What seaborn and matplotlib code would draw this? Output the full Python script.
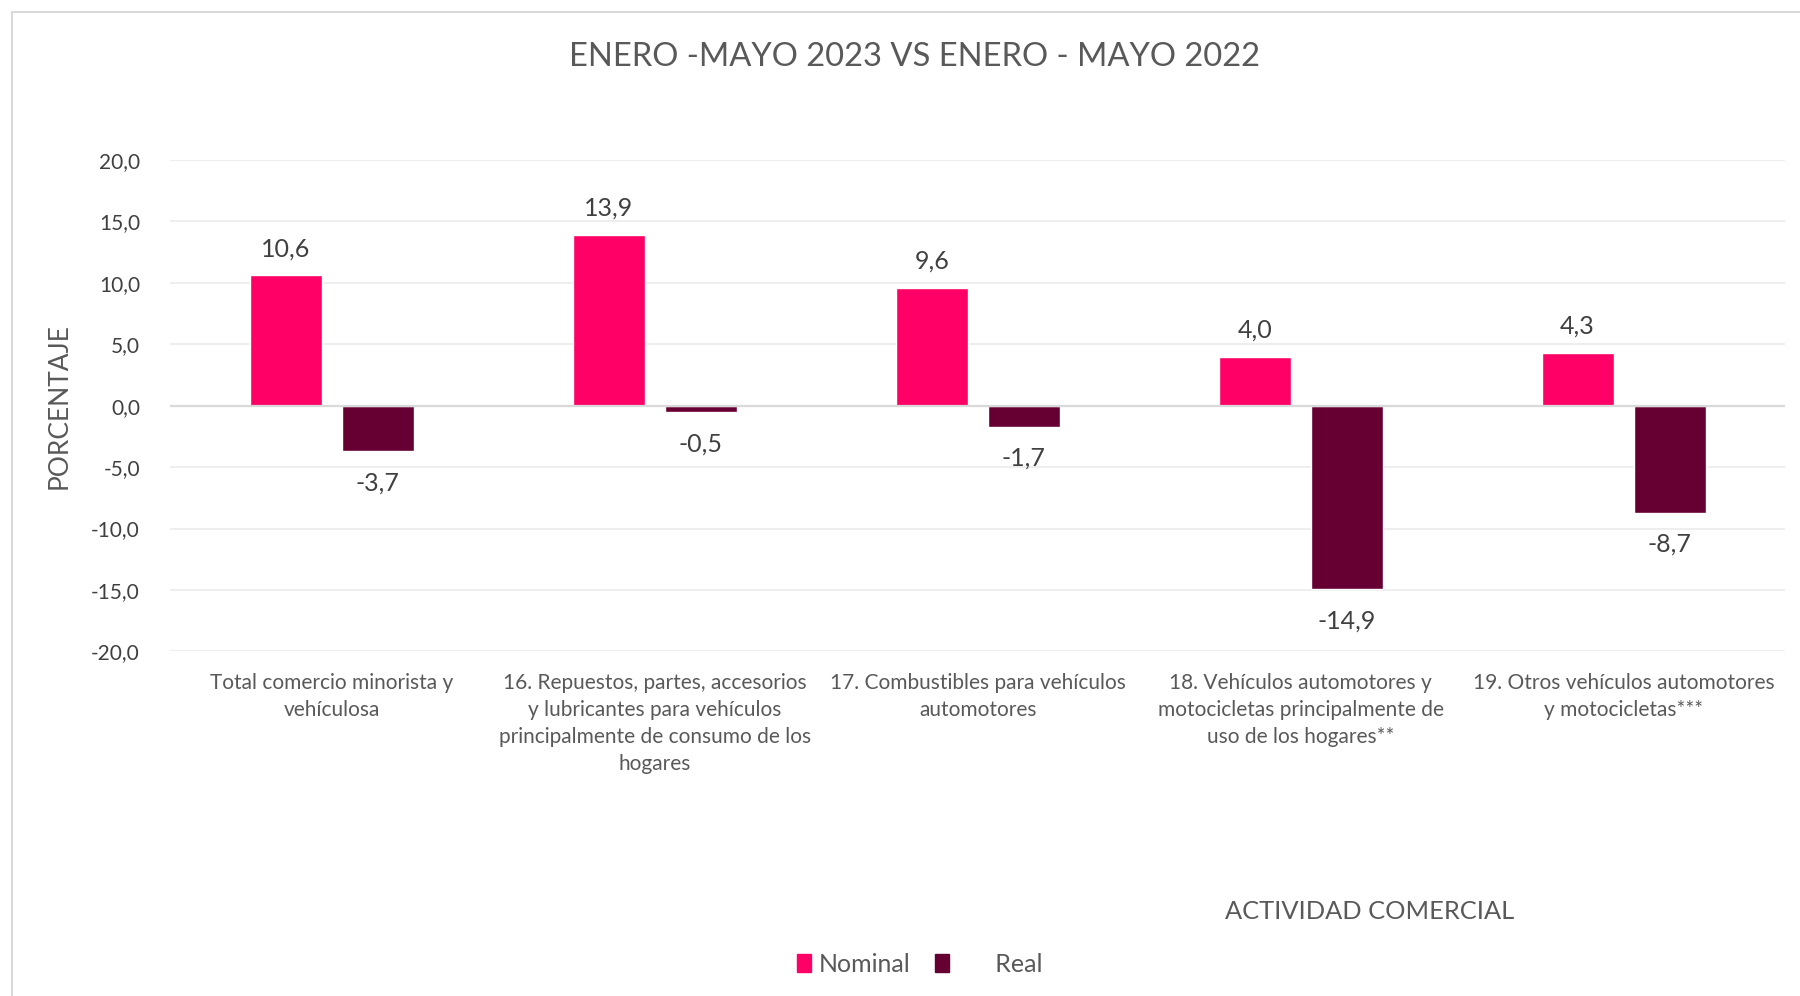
import matplotlib
matplotlib.use("Agg")
import matplotlib.pyplot as plt
from matplotlib.patches import Patch, Rectangle
from matplotlib.ticker import FuncFormatter
import seaborn as sns
import pandas as pd

# Datos del grafico
categorias = [
    "Total comercio minorista y\nvehículosa",
    "16. Repuestos, partes, accesorios\ny lubricantes para vehículos\nprincipalmente de consumo de los\nhogares",
    "17. Combustibles para vehículos\nautomotores",
    "18. Vehículos automotores y\nmotocicletas principalmente de\nuso de los hogares**",
    "19. Otros vehículos automotores\ny motocicletas***",
]
series = ["Nominal", "Real"]
nominal = [10.6, 13.9, 9.6, 4.0, 4.3]
real = [-3.7, -0.5, -1.7, -14.9, -8.7]
colores = ["#FF0066", "#660033"]

df = pd.DataFrame({
    "CATEGORIA": categorias * 2,
    "SERIE": ["Nominal"] * len(categorias) + ["Real"] * len(categorias),
    "VALOR": nominal + real,
})

sns.set_style("white")
plt.rcParams['font.family'] = ['Lato', 'DejaVu Sans']
gris = "#595959"

fig = plt.figure(figsize=(18, 9.96), dpi=100)
ax = fig.add_axes([0.0947, 0.346, 0.897, 0.4934])

sns.barplot(data=df, x="CATEGORIA", y="VALOR", hue="SERIE", order=categorias,
            hue_order=series, palette=colores, width=0.57, gap=0.218,
            saturation=1, legend=False, ax=ax)

ax.set_ylim(-20, 20)
ax.set_xlim(-0.5, 4.5)
ax.set_yticks(range(-20, 21, 5))
ax.yaxis.set_major_formatter(FuncFormatter(lambda v, p: f"{v:.1f}".replace(".", ",")))
ax.grid(axis="y", color="#EDEDED", linewidth=1.3)
ax.set_axisbelow(True)
ax.axhline(0, color="#D9D9D9", linewidth=1.6, zorder=1)
for s in ax.spines.values():
    s.set_visible(False)
ax.tick_params(axis="y", length=0, pad=22, labelsize=15, labelcolor="#404040")
ax.tick_params(axis="x", length=0, pad=15.5, labelsize=15, labelcolor=gris)
for lbl in ax.get_xticklabels():
    lbl.set_linespacing(1.44)

ax.set_xlabel("")
ax.set_ylabel("PORCENTAJE", fontsize=19, color=gris)
ax.yaxis.set_label_coords(-0.061, 0.5)

# Etiquetas de datos
for cont in ax.containers:
    for bar in cont:
        v = bar.get_height()
        y = bar.get_y() + v
        off = 19 if v >= 0 else -23
        ax.annotate(f"{v:.1f}".replace(".", ","), (bar.get_x() + bar.get_width() / 2, y),
                    xytext=(0, off), textcoords="offset points", ha="center", va="center",
                    fontsize=18, color="#404040")

fig.text(0.508, 0.9425, "ENERO -MAYO 2023 VS ENERO - MAYO 2022", ha="center", va="center",
         fontsize=23.6, color=gris)
fig.text(0.761, 0.085, "ACTIVIDAD COMERCIAL", ha="center", va="center", fontsize=18.3,
         color=gris)

handles = [Patch(color=colores[0]), Patch(color=colores[1])]
fig.legend(handles, ["Nominal", "      Real"], loc="center", bbox_to_anchor=(0.511, 0.032),
           ncol=2, frameon=False, prop={"size": 18}, labelcolor=gris,
           handlelength=0.55, handleheight=0.75, handletextpad=0.3, columnspacing=1.0)

# Borde exterior
fig.patches.append(Rectangle((12 / 1800, -0.1), 1.2, 0.988 + 0.1, transform=fig.transFigure,
                             fill=False, edgecolor="#D9D9D9", linewidth=1.5))

fig.savefig("out.png", dpi=100)
